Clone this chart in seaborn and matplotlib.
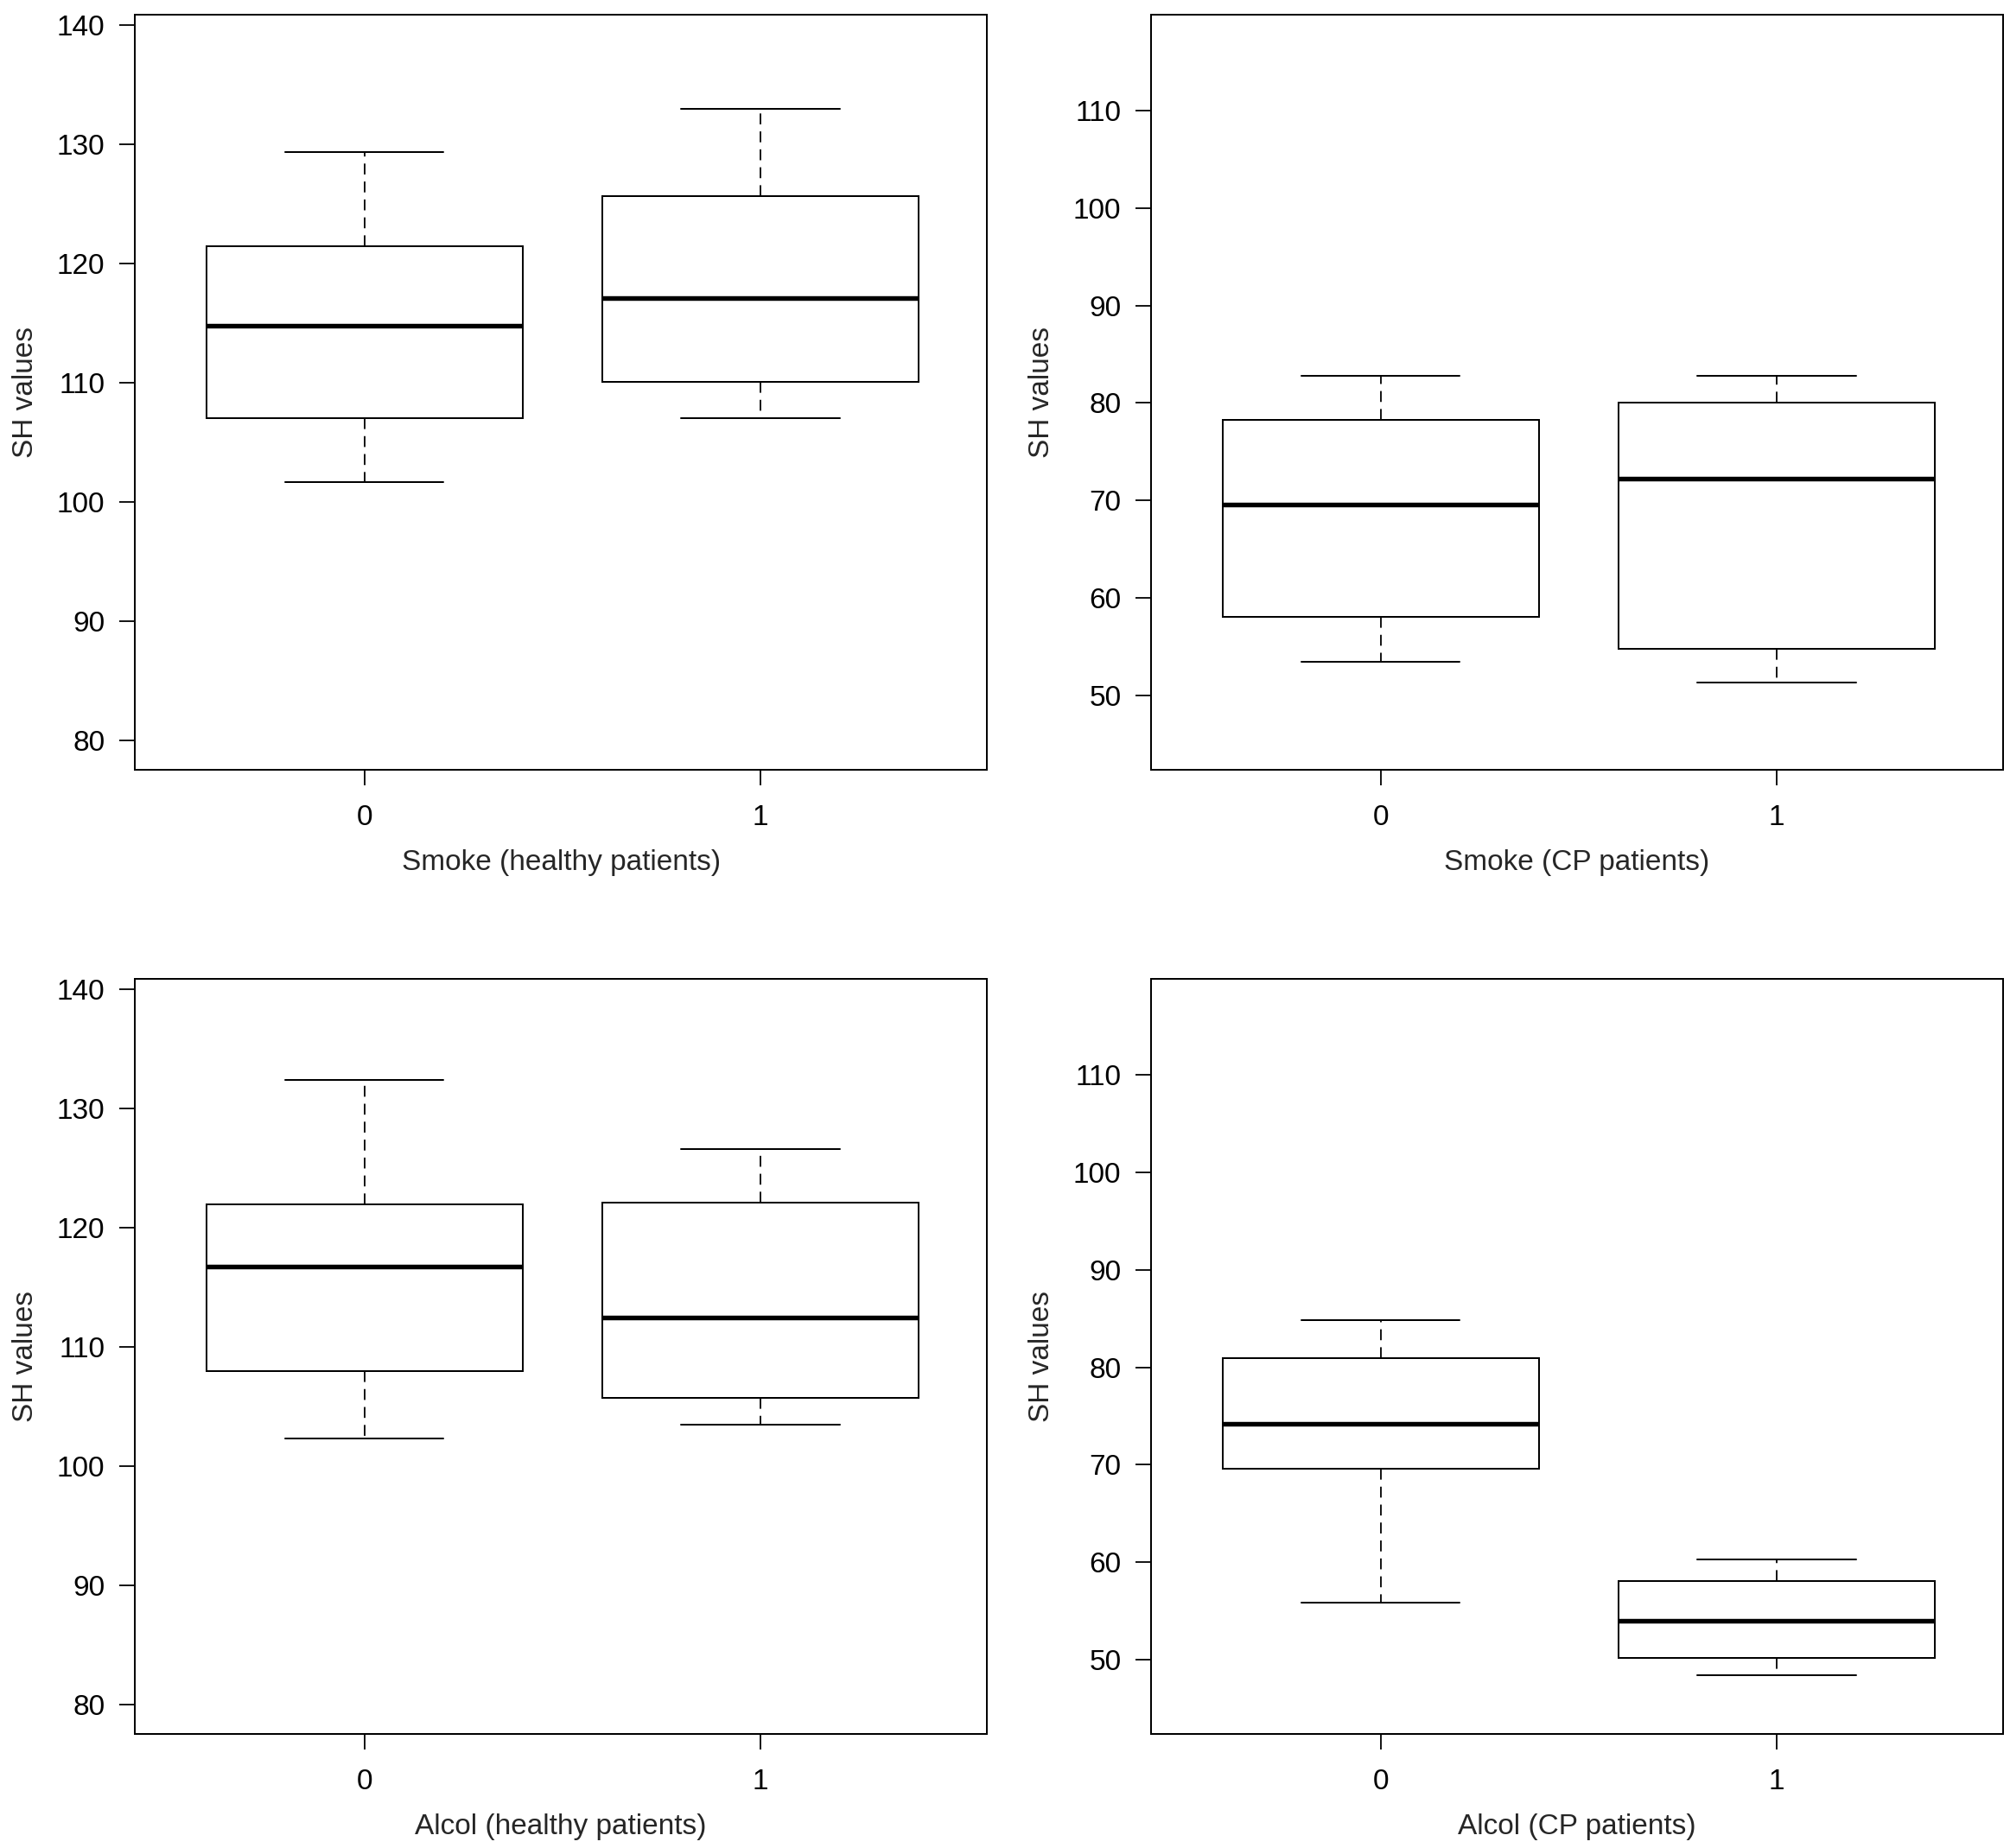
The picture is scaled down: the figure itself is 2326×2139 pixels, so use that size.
import matplotlib
matplotlib.use("Agg")
import matplotlib.pyplot as plt
import seaborn as sns
import pandas as pd

# ---- data (five-number summaries: min, Q1, median, Q3, max)
groups = ["0", "1"]
smoke_healthy_0 = [101.7, 107.05, 114.8, 121.4, 129.3]
smoke_healthy_1 = [107.05, 110.05, 117.1, 125.65, 132.95]
smoke_cp_0 = [53.5, 58.1, 69.6, 78.3, 82.8]
smoke_cp_1 = [51.3, 54.8, 72.2, 80.05, 82.8]
alcol_healthy_0 = [102.3, 108.0, 116.75, 121.95, 132.35]
alcol_healthy_1 = [103.5, 105.7, 112.5, 122.1, 126.6]
alcol_cp_0 = [55.9, 69.6, 74.2, 80.9, 84.8]
alcol_cp_1 = [48.4, 50.2, 54.0, 58.1, 60.3]

xlabels = ["Smoke (healthy patients)", "Smoke (CP patients)",
           "Alcol (healthy patients)", "Alcol (CP patients)"]
ylabel = "SH values"
healthy_ticks = [80, 90, 100, 110, 120, 130, 140]
cp_ticks = [50, 60, 70, 80, 90, 100, 110]

panels = [
    (smoke_healthy_0, smoke_healthy_1, xlabels[0], healthy_ticks, (77.57, 140.83)),
    (smoke_cp_0, smoke_cp_1, xlabels[1], cp_ticks, (42.4, 119.8)),
    (alcol_healthy_0, alcol_healthy_1, xlabels[2], healthy_ticks, (77.57, 140.83)),
    (alcol_cp_0, alcol_cp_1, xlabels[3], cp_ticks, (42.4, 119.8)),
]

sns.set_style("ticks")
plt.rcParams["font.family"] = ["Liberation Sans", "DejaVu Sans"]
plt.rcParams["axes.linewidth"] = 1.44
plt.rcParams["xtick.major.width"] = 1.3
plt.rcParams["ytick.major.width"] = 1.3
plt.rcParams["xtick.major.size"] = 13
plt.rcParams["ytick.major.size"] = 13
plt.rcParams["xtick.major.pad"] = 16
plt.rcParams["ytick.major.pad"] = 12
plt.rcParams["xtick.labelsize"] = 24
plt.rcParams["ytick.labelsize"] = 24
plt.rcParams["axes.labelsize"] = 24
plt.rcParams["xtick.color"] = "black"
plt.rcParams["ytick.color"] = "black"
plt.rcParams["axes.edgecolor"] = "black"

fig = plt.figure(figsize=(23.26, 21.39), dpi=100)
lefts = [0.0671, 0.5727]
bottoms = [0.5835, 0.0617]
w, h = 0.4239, 0.4085

for i, (g0, g1, xl, ticks, ylim) in enumerate(panels):
    r, c = divmod(i, 2)
    ax = fig.add_axes([lefts[c], bottoms[r], w, h])
    df = pd.DataFrame({
        "group": [groups[0]] * len(g0) + [groups[1]] * len(g1),
        "value": g0 + g1,
    })
    sns.boxplot(
        data=df, x="group", y="value", order=groups, ax=ax,
        whis=(0, 100), width=0.8, color="white", saturation=1,
        linecolor="black", linewidth=1.44,
        boxprops=dict(facecolor="white", edgecolor="black", linewidth=1.44),
        medianprops=dict(color="black", linewidth=3.9),
        whiskerprops=dict(color="black", linewidth=1.3, linestyle=(0, (7, 4.5))),
        capprops=dict(color="black", linewidth=1.44),
        showfliers=False,
    )
    ax.set_xlim(-0.58, 1.572)
    ax.set_ylim(*ylim)
    ax.set_yticks(ticks)
    ax.set_yticklabels([str(t) for t in ticks])
    ax.set_xlabel(xl, labelpad=15)
    ax.set_ylabel(ylabel, labelpad=15)
    for s in ax.spines.values():
        s.set_visible(True)
        s.set_linewidth(1.44)
        s.set_color("black")
    ax.grid(False)

fig.savefig("out.png", dpi=100, facecolor="white")
